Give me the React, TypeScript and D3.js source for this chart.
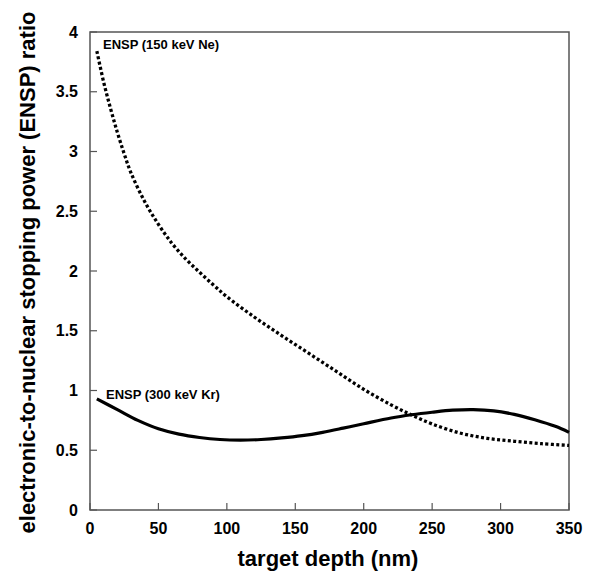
import React from "react";
import * as d3 from "d3";

const xTicks = [0, 50, 100, 150, 200, 250, 300, 350];
const yTicks = [0, 0.5, 1, 1.5, 2, 2.5, 3, 3.5, 4];

const neDepth = [5, 10, 15, 20, 25, 30, 40, 50, 60, 70, 80, 90, 100, 120, 140, 160, 180, 200, 220, 235, 250, 270, 290, 310, 330, 350];
const neRatio = [3.84, 3.58, 3.36, 3.16, 2.98, 2.82, 2.58, 2.39, 2.23, 2.1, 1.99, 1.885, 1.785, 1.615, 1.46, 1.31, 1.16, 1.01, 0.88, 0.795, 0.72, 0.645, 0.6, 0.575, 0.555, 0.54];

const krDepth = [5, 20, 35, 50, 65, 80, 95, 110, 125, 140, 155, 170, 185, 200, 220, 235, 250, 265, 280, 295, 310, 325, 340, 350];
const krRatio = [0.93, 0.84, 0.75, 0.68, 0.635, 0.607, 0.59, 0.585, 0.59, 0.603, 0.622, 0.65, 0.685, 0.722, 0.77, 0.797, 0.818, 0.835, 0.84, 0.83, 0.8, 0.755, 0.7, 0.65];

const neLabel = "ENSP (150 keV Ne)";
const krLabel = "ENSP (300 keV Kr)";
const xTitle = "target depth (nm)";
const yTitle = "electronic-to-nuclear stopping power (ENSP) ratio";

export default function App() {
  const W = 589, H = 572;
  const L = 90, R = 569, T = 32, B = 510;
  const x = d3.scaleLinear().domain([0, 350]).range([L, R]);
  const y = d3.scaleLinear().domain([0, 4]).range([B, T]);
  const line = d3.line<[number, number]>().x(d => x(d[0])).y(d => y(d[1])).curve(d3.curveCatmullRom.alpha(0.5));
  const ne = line(neDepth.map((d, i) => [d, neRatio[i]]) as [number, number][]) || "";
  const kr = line(krDepth.map((d, i) => [d, krRatio[i]]) as [number, number][]) || "";
  const font = "'Liberation Sans', Arial, Helvetica, sans-serif";
  const axisColor = "#555";
  return (
    <svg width={W} height={H} style={{ position: "absolute", left: 0, top: 0, background: "#fff" }} fontFamily={font}>
      <rect x={L} y={T} width={R - L} height={B - T} fill="none" stroke={axisColor} strokeWidth={1.5} />
      {xTicks.map(t => (
        <g key={"x" + t}>
          <line x1={x(t)} x2={x(t)} y1={B} y2={B - 7} stroke={axisColor} strokeWidth={1.2} />
          <text x={x(t)} y={B + 24} textAnchor="middle" fontSize={16} fontWeight="bold">{t}</text>
        </g>
      ))}
      {yTicks.map(t => (
        <g key={"y" + t}>
          <line x1={L} x2={L + 7} y1={y(t)} y2={y(t)} stroke={axisColor} strokeWidth={1.2} />
          <text x={L - 12} y={y(t)} dy="0.35em" textAnchor="end" fontSize={16} fontWeight="bold">{t}</text>
        </g>
      ))}
      <path d={ne} fill="none" stroke="#000" strokeWidth={3.3} strokeDasharray="3 2.4" />
      <path d={kr} fill="none" stroke="#000" strokeWidth={3.2} />
      <text x={103} y={49} fontSize={13} fontWeight="bold">{neLabel}</text>
      <text x={106} y={399} fontSize={13} fontWeight="bold">{krLabel}</text>
      <text x={328} y={566} textAnchor="middle" fontSize={22} fontWeight="bold">{xTitle}</text>
      <text transform={`translate(35, 272.5) rotate(-90)`} textAnchor="middle" fontSize={22} fontWeight="bold">{yTitle}</text>
    </svg>
  );
}
